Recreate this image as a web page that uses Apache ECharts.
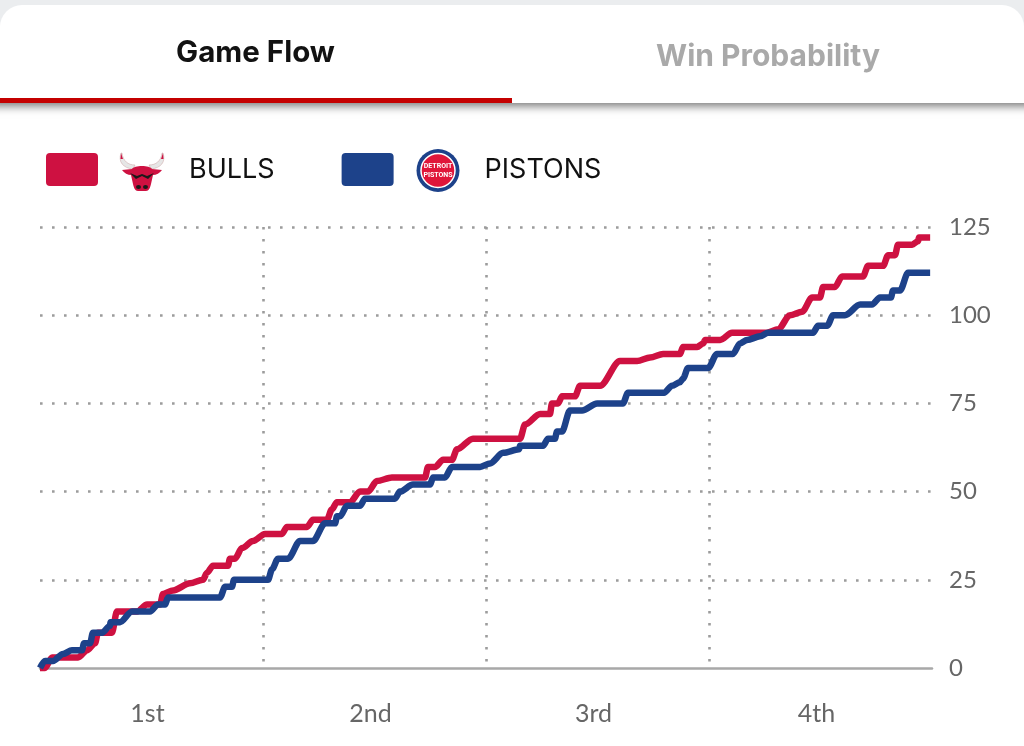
<!DOCTYPE html>
<html><head><meta charset="utf-8">
<style>html,body{margin:0;padding:0;background:#fff}#c{width:1024px;height:746px}</style>
<script src="https://cdn.jsdelivr.net/npm/echarts@6/dist/echarts.min.js"></script>
</head><body><div id="c"></div>
<script>
const quarterLabels = ['1st','2nd','3rd','4th'];
const teamNames = ['BULLS','PISTONS'];
const bullsMinutes = [0,.27,.65,2.05,2.53,2.96,3.12,3.87,4.14,5.22,5.76,6.46,6.62,7.16,8.07,8.77,8.99,9.31,10.12,10.22,10.49,10.87,11.46,12.11,13.02,13.29,14.37,14.69,15.44,15.71,15.98,16.68,17.22,17.65,18.13,18.94,20.72,20.88,21.26,21.69,22.17,22.44,23.30,25.83,26.10,26.91,27.44,27.55,27.88,28.09,28.79,29.06,30.14,31.21,32.13,32.83,33.53,34.44,34.60,35.36,35.68,35.79,36.60,37.24,39.12,39.72,40.36,41.01,41.55,41.97,42.14,42.78,43.16,44.29,44.56,45.37,45.64,46.01,46.17,46.93,47.25,47.30,47.90];
const bullsScores  = [0,0,3,3,5,7,10,10,16,16,18,18,21,22,24,25,27,29,29,31,31,34,36,38,38,40,40,42,42,45,47,47,50,50,53,54,54,57,57,59,59,62,65,65,69,72,72,75,75,77,77,80,80,87,87,88,89,89,91,91,92,93,93,95,95,96,100,101,105,105,108,108,111,111,114,114,117,117,120,120,121,122,122];
const pistonsMinutes = [0,.27,.70,1.24,1.72,2.26,2.37,2.69,2.85,3.34,3.77,3.79,4.31,4.95,5.92,6.35,6.73,6.89,9.69,9.96,10.33,10.44,12.27,12.49,12.81,13.35,13.99,14.69,15.34,15.88,15.98,16.15,16.52,17.22,17.49,19.10,19.37,20.07,20.99,21.15,21.79,22.17,23.68,24.22,24.92,25.78,25.83,27.07,27.34,27.71,27.82,28.09,28.52,29.17,29.98,31.37,31.64,33.58,34.01,34.44,34.60,34.87,35.95,36.43,37.29,37.67,38.05,38.75,39.18,41.60,41.87,42.36,42.68,43.32,44.13,44.77,45.20,45.79,45.90,46.28,46.71,47.90];
const pistonsScores  = [0,2,2,4,5,5,7,7,10,10,12,13,13,16,16,18,18,20,20,23,23,25,25,28,31,31,36,36,41,41,43,43,46,46,48,48,50,52,52,54,54,57,57,58,61,62,63,63,65,65,67,67,73,73,75,75,78,78,80,81,82,85,85,89,89,92,93,94,95,95,97,97,100,100,103,103,105,105,107,107,112,112];
const yTicks = {min:0,max:125,step:25};
const gameLength = 48, quarterLength = 12;

const pair = (xs,ys)=>xs.map((x,i)=>[x,ys[i]]);
const RED='#ce1141', BLUE='#1d428a', DOT='#9c9c9c';
const dots={color:DOT,width:2.6,type:[2.6,9.4]};
const G=echarts.graphic;
G.registerShape('bullHorns',G.extendPath('M121,153 C118,162 123,168 133,169 L135,165 C128,165 123,161 122,153Z M163,153 C166,162 161,168 151,169 L149,165 C156,165 161,161 162,153Z',{}));
G.registerShape('bullTips',G.extendPath('M121,153 L120.5,159 L123,159Z M163,153 L163.5,159 L161,159Z',{}));
G.registerShape('bullHead',G.extendPath('M122,170 L132,169 C134,165 150,165 152,169 L162,170 C160,173 156,175 153,175 L151,184 C150,188 149,191 146,191 L138,191 C135,191 134,188 133,184 L131,175 C128,175 124,173 122,170Z',{}));
G.registerShape('bullFace',G.extendPath('M130,173 L137,176 L142,174 L147,176 L154,173 L148,179 L142,176 L136,179Z M136,187 a2.5,2 0 1 0 5,0 a2.5,2 0 1 0 -5,0Z M143,187 a2.5,2 0 1 0 5,0 a2.5,2 0 1 0 -5,0Z',{}));
const chart=echarts.init(document.getElementById('c'),null,{renderer:'canvas'});
chart.setOption({
  animation:false,
  backgroundColor:'#fff',
  legend:{
    left:46,top:153,padding:0,itemWidth:52,itemHeight:33,itemGap:67,
    icon:'path://M4,0H48a4,4 0 0 1 4,4V29a4,4 0 0 1 -4,4H4a4,4 0 0 1 -4,-4V4a4,4 0 0 1 4,-4Z',
    selectedMode:false,data:teamNames,
    itemStyle:{borderWidth:0},
    textStyle:{fontFamily:'Inter',fontSize:27,color:'#111',padding:[0,0,4,86]}
  },
  grid:{left:40,right:92,top:227,bottom:78,containLabel:false},
  xAxis:[
    {type:'value',min:0,max:gameLength,interval:quarterLength,
     axisLine:{show:true,onZero:false,lineStyle:{color:'#a8a8a8',width:2.5}},axisTick:{show:false},axisLabel:{show:false},
     splitLine:{show:true,showMinLine:false,showMaxLine:false,lineStyle:dots}},
    {type:'category',data:quarterLabels,position:'bottom',
     axisLine:{show:false},axisTick:{show:false},splitLine:{show:false},
     axisLabel:{margin:33,fontFamily:'Lato',fontSize:25,color:'#666',padding:[0,8,0,0]}}
  ],
  yAxis:{type:'value',position:'right',min:yTicks.min,max:yTicks.max,interval:yTicks.step,
     axisLine:{show:false},axisTick:{show:false},
     axisLabel:{margin:17,fontFamily:'Lato',fontSize:24,color:'#666'},
     splitLine:{show:true,showMinLine:false,lineStyle:dots}},
  series:[
    {name:'BULLS',type:'line',xAxisIndex:0,data:pair(bullsMinutes,bullsScores),showSymbol:false,clip:false,smooth:.3,smoothMonotone:'x',
     itemStyle:{color:RED},lineStyle:{color:RED,width:6.5},z:3},
    {name:'PISTONS',type:'line',xAxisIndex:0,data:pair(pistonsMinutes,pistonsScores),showSymbol:false,clip:false,smooth:.3,smoothMonotone:'x',
     itemStyle:{color:BLUE},lineStyle:{color:BLUE,width:6.5},z:4}
  ],
  graphic:[
    {type:'rect',silent:true,z:0,shape:{x:-10,y:0,width:1044,height:30},style:{fill:'#ebedef'}},
    {type:'rect',silent:true,z:1,shape:{x:-10,y:60,width:1044,height:43},
      style:{fill:'#fff',shadowBlur:9,shadowOffsetY:3,shadowColor:'rgba(0,0,0,.55)'}},
    {type:'rect',silent:true,z:2,shape:{x:0,y:5,width:1024,height:98,r:[22,22,0,0]},style:{fill:'#fff'}},
    {type:'rect',silent:true,z:3,shape:{x:0,y:98,width:512,height:5},style:{fill:'#c40000'}},
    {type:'text',silent:true,z:3,x:255.5,y:53,style:{text:'Game Flow',fontFamily:'Inter',fontWeight:'bold',fontSize:29.5,fill:'#121212',align:'center',verticalAlign:'middle'}},
    {type:'text',silent:true,z:3,x:768,y:56.5,style:{text:'Win Probability',fontFamily:'Inter',fontWeight:'bold',fontSize:30,fill:'#a9a9a9',align:'center',verticalAlign:'middle'}},
    {type:'bullHorns',silent:true,z:3,shape:{},style:{fill:'#e6e6e6',stroke:'#c9a0a0',lineWidth:.5}},
    {type:'bullTips',silent:true,z:3,shape:{},style:{fill:'#ce1141'}},
    {type:'bullHead',silent:true,z:4,shape:{},style:{fill:'#ce1141'}},
    {type:'bullFace',silent:true,z:5,shape:{},style:{fill:'#1a1a1a'}},
    {type:'circle',silent:true,z:3,shape:{cx:438,cy:170.5,r:21.5},style:{fill:'#1d428a'}},
    {type:'circle',silent:true,z:4,shape:{cx:438,cy:170.5,r:17},style:{fill:'#e0163a',stroke:'#fff',lineWidth:1.5}},
    {type:'text',silent:true,z:5,x:438,y:166.5,style:{text:'DETROIT',fontFamily:'Roboto',fontWeight:'bold',fontSize:7,fill:'#fff',align:'center',verticalAlign:'middle'}},
    {type:'text',silent:true,z:5,x:438,y:175,style:{text:'PISTONS',fontFamily:'Roboto',fontWeight:'bold',fontSize:7,fill:'#fff',align:'center',verticalAlign:'middle'}}
  ]
});
</script></body></html>
